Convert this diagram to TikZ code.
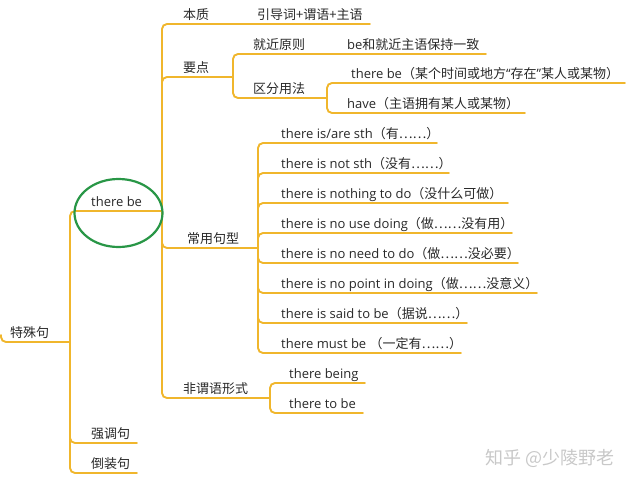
\documentclass[tikz,border=0pt]{standalone}
\usepackage{fontspec}
\usetikzlibrary{shapes.geometric}
\setmainfont{Open Sans}
\newfontfamily\cjk{Noto Sans CJK SC}
\definecolor{branchc}{RGB}{240,182,44}
\definecolor{txtc}{RGB}{40,40,40}
\definecolor{ringc}{RGB}{40,150,70}
\definecolor{markc}{RGB}{200,200,200}
\begin{document}
\begin{tikzpicture}[x=1pt,y=-1pt,
  lbl/.style={anchor=base west,inner sep=0pt,text=txtc,font=\fontsize{13}{15}\selectfont},
  branch/.style={draw=branchc,line width=1.9pt,rounded corners=5pt,line cap=round},
  ring/.style={draw=ringc,line width=2.2pt},
  wmark/.style={anchor=center,inner sep=0pt,text=markc,font=\cjk\fontsize{18}{20}\selectfont}]
\useasboundingbox (0,0) rectangle (635,485);
% ---------- labels ----------
\node[lbl] (root) at (10,337) {\cjk 特殊句};
\node[lbl] (tb) at (91,206) {there be};
\node[lbl] (qd) at (91,438) {\cjk 强调句};
\node[lbl] (dz) at (91,468) {\cjk 倒装句};
\node[lbl] (bz) at (183,19) {\cjk 本质};
\node[lbl] (ydc) at (257,19) {\cjk 引导词+谓语+主语};
\node[lbl] (yd) at (183,72) {\cjk 要点};
\node[lbl] (jj) at (253,49) {\cjk 就近原则};
\node[lbl] (jjc) at (347,49) {be{\cjk 和就近主语保持一致}};
\node[lbl] (qf) at (253,93) {\cjk 区分用法};
\node[lbl] (qfa) at (351,78) {there be{\cjk（某个时间或地方}“{\cjk 存在}”{\cjk 某人或某物）}};
\node[lbl] (qfb) at (347,108) {have{\cjk（主语拥有某人或某物）}};
\node[lbl] (cy) at (187,243) {\cjk 常用句型};
\node[lbl] (c1) at (281,138) {there is/are sth{\cjk（有……）}};
\node[lbl] (c2) at (281,168) {there is not sth{\cjk（没有……）}};
\node[lbl] (c3) at (281,198) {there is nothing to do{\cjk（没什么可做）}};
\node[lbl] (c4) at (281,228) {there is no use doing{\cjk（做……没有用）}};
\node[lbl] (c5) at (281,258) {there is no need to do{\cjk（做……没必要）}};
\node[lbl] (c6) at (281,288) {there is no point in doing{\cjk（做……没意义）}};
\node[lbl] (c7) at (281,318) {there is said to be{\cjk（据说……）}};
\node[lbl] (c8) at (281,348) {there must be {\cjk（一定有……）}};
\node[lbl] (fw) at (183,393) {\cjk 非谓语形式};
\node[lbl] (f1) at (289,378) {there being};
\node[lbl] (f2) at (289,408) {there to be};
% ---------- underline ends ----------
\coordinate (root-s) at (1,335);
\coordinate (root-e) at (70,342);
\coordinate (tb-e) at (162,211);
\coordinate (qd-e) at (137,443);
\coordinate (dz-e) at (137,473);
\coordinate (bz-e) at (250,24);
\coordinate (ydc-e) at (370,24);
\coordinate (yd-e) at (233,77);
\coordinate (jj-e) at (340,54);
\coordinate (jjc-e) at (486,54);
\coordinate (qf-e) at (327,98);
\coordinate (qfa-e) at (625,83);
\coordinate (qfb-e) at (525,113);
\coordinate (cy-e) at (258,248);
\coordinate (c1-e) at (437,143);
\coordinate (c2-e) at (449,173);
\coordinate (c3-e) at (508,203);
\coordinate (c4-e) at (512,233);
\coordinate (c5-e) at (518,263);
\coordinate (c6-e) at (537,293);
\coordinate (c7-e) at (467,323);
\coordinate (c8-e) at (461,353);
\coordinate (fw-e) at (270,398);
\coordinate (f1-e) at (365,383);
\coordinate (f2-e) at (363,413);
% ---------- connectors ----------
\draw[branch] (root-s) |- (root-e);
\foreach \c in {tb-e,qd-e,dz-e} \draw[branch] (root-e) |- (\c);
\foreach \c in {bz-e,yd-e,cy-e,fw-e} \draw[branch] (tb-e) |- (\c);
\draw[branch] (bz-e) -- (ydc-e);
\foreach \c in {jj-e,qf-e} \draw[branch] (yd-e) |- (\c);
\draw[branch] (jj-e) -- (jjc-e);
\foreach \c in {qfa-e,qfb-e} \draw[branch] (qf-e) |- (\c);
\foreach \c in {c1-e,c2-e,c3-e,c4-e,c5-e,c6-e,c7-e,c8-e} \draw[branch] (cy-e) |- (\c);
\foreach \c in {f1-e,f2-e} \draw[branch] (fw-e) |- (\c);
% ---------- highlight ring ----------
\node[ring,ellipse,minimum width=88pt,minimum height=68pt,inner sep=0pt] (ring) at (118.5,213) {};
% ---------- watermark ----------
\node[wmark] (wm) at (550,458) {知乎 @少陵野老};
\end{tikzpicture}
\end{document}
